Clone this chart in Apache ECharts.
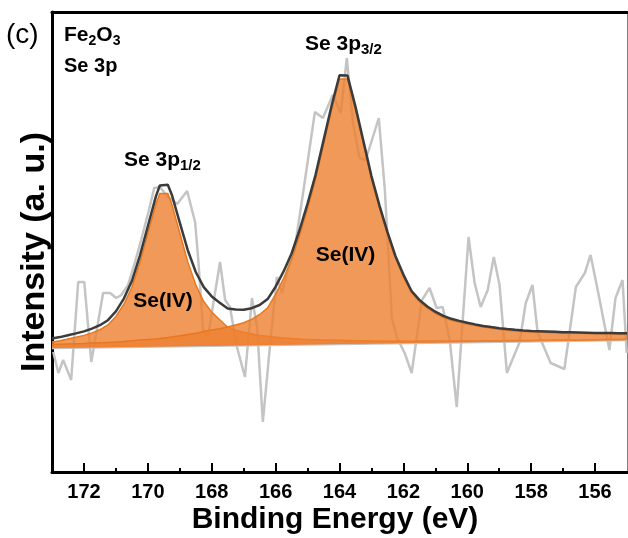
<!DOCTYPE html>
<html><head><meta charset="utf-8">
<script src="https://cdn.jsdelivr.net/npm/echarts@6/dist/echarts.min.js"></script>
<style>html,body{margin:0;padding:0;background:#fff}#c{width:628px;height:538px}</style>
</head><body><div id="c"></div>
<script>
// Raw (noisy) spectrum
const rawEnergy = [172.96,172.80,172.65,172.40,172.18,171.99,171.77,171.40,171.18,170.99,170.83,170.62,170.40,170.21,169.98,169.80,169.62,169.40,169.08,168.77,168.52,168.42,168.27,168.12,167.74,167.58,167.43,167.21,166.96,166.74,166.58,166.40,166.18,165.96,165.80,165.58,165.36,165.14,164.77,164.52,164.21,163.96,163.77,163.58,163.37,163.18,162.77,162.58,162.36,162.21,161.96,161.74,161.42,161.18,160.96,160.77,160.55,160.33,160.18,159.96,159.77,159.58,159.36,159.17,158.99,158.76,158.36,158.17,157.96,157.80,157.39,156.96,156.60,156.32,156.14,155.93,155.55,155.36,155.14,155.01];
const rawIntensity = [120,99,112,92,190,190,110,179,179,174,177,187,210,232,260,284,285,276,268,281,250,212,142,135,210,172,165,125,95,174,145,50,125,195,179,207,232,279,360,354,377,359,414,349,314,312,354,282,154,135,119,99,172,184,164,165,132,65,135,235,189,165,182,215,187,99,130,169,187,140,109,103,185,199,217,184,122,174,192,119];

// Fitted curves
const fitEnergy = [173,172.75,172.5,172.25,172,171.75,171.5,171.25,171,170.75,170.5,170.25,170,169.75,169.625,169.375,169.25,169,168.75,168.5,168.25,168,167.75,167.5,167.25,167,166.75,166.5,166.25,166,165.75,165.5,165.25,165,164.75,164.5,164.25,164,163.75,163.5,163.25,163,162.75,162.5,162.25,162,161.75,161.5,161.25,161,160.75,160.5,160.25,160,159.75,159.5,159.25,159,158.75,158.5,158.25,158,157.75,157.5,157.25,157,156.75,156.5,156.25,156,155.75,155.5,155.25,155];
const peak3p12 = [130.1,131.3,133.1,134.7,136.6,139.1,142.3,147.0,155.5,167.8,184.8,209.4,238.5,267.7,278.5,278.5,268.0,239.0,210.1,187.2,170.5,159.9,152.3,144.8,141.9,139.7,138.0,136.4,135.7,134.8,134.1,133.4,132.9,132.6,132.3,132.1,131.9,131.7,131.5,131.3,131.2,131.0,131.0,131.0,130.9,130.9,130.8,130.9,130.9,131.0,130.9,131.1,131.1,131.2,131.1,131.2,131.3,131.3,131.4,131.5,131.6,131.6,131.7,131.8,131.9,131.9,132.0,132.1,132.2,132.3,132.4,132.5,132.6,132.7];
const peak3p32 = [127.5,127.7,127.9,128.2,128.4,128.9,129.2,129.6,130.0,130.6,131.2,131.9,132.5,133.1,133.5,134.4,135.0,136.2,137.6,138.8,140.5,141.9,143.3,145.0,147.1,149.3,152.6,157.5,164.2,177.6,193.7,212.4,236.5,263.3,292.6,327.3,362.0,393.0,393.0,362.3,327.8,293.3,264.3,237.8,213.9,195.4,179.5,170.3,163.8,158.6,154.7,151.7,149.7,147.9,146.4,144.9,143.7,142.7,141.8,141.1,140.6,140.2,139.9,139.6,139.3,139.0,138.9,138.7,138.5,138.4,138.3,138.2,138.1,138.0];
const envelope = [133.6,134.9,136.8,138.6,140.6,143.4,146.8,151.8,160.6,173.4,190.9,216.1,245.7,275.4,286.5,287.3,277.3,249.4,221.8,200.0,184.9,175.6,169.3,163.4,162.4,162.3,163.8,167.0,172.9,185.3,200.6,218.5,242.0,268.3,297.2,331.6,366.0,396.7,396.4,365.4,330.7,295.9,266.7,240.1,216.0,197.4,181.3,172.1,165.5,160.3,156.2,153.2,151.1,149.3,147.6,146.1,144.9,143.8,142.9,142.2,141.6,141.1,140.8,140.5,140.2,139.8,139.7,139.5,139.3,139.1,139.0,138.9,138.8,138.7];

// Background (linear)
const backgroundEnergy = [173, 155];
const backgroundIntensity = [124, 132];

// Axis ticks
const majorTicks = [156,158,160,162,164,166,168,170,172];
const minorTicks = [157,159,161,163,165,167,169,171];

const FONT = '"Liberation Sans", Arial, Helvetica, sans-serif';
const pairs = (xs, ys) => xs.map((x, i) => [x, ys[i]]);

function peakSeries(values, name) {
  return {
    type: 'custom', name: name, xAxisIndex: 0, yAxisIndex: 0, z: 3, clip: true,
    silent: true, animation: false,
    data: [[164, 200]],
    renderItem: function (params, api) {
      const top = fitEnergy.map((x, i) => api.coord([x, values[i]]));
      const base = [api.coord([backgroundEnergy[1], backgroundIntensity[1]]),
                    api.coord([backgroundEnergy[0], backgroundIntensity[0]])];
      return { type: 'group', children: [
        { type: 'polygon', shape: { points: top.concat(base) }, style: { fill: 'rgba(238,128,48,0.8)', stroke: null } },
        { type: 'polyline', shape: { points: top }, style: { fill: null, stroke: '#E8781E', lineWidth: 1.5 } }
      ] };
    }
  };
}

const chart = echarts.init(document.getElementById('c'), null, { renderer: 'canvas' });
const gridRect = { left: 52, right: 1, top: 12, bottom: 66 };
const cornerRich = {
  b: { fontSize: 21, fontWeight: 'bold', fontFamily: FONT, fill: '#000', lineHeight: 26 },
  s: { fontSize: 14, fontWeight: 'bold', fontFamily: FONT, fill: '#000', lineHeight: 26, verticalAlign: 'bottom' }
};
const peakRich = {
  b: { fontSize: 21, fontWeight: 'bold', fontFamily: FONT, fill: '#000', lineHeight: 27 },
  s: { fontSize: 15, fontWeight: 'bold', fontFamily: FONT, fill: '#000', lineHeight: 27, verticalAlign: 'bottom' }
};
const hidden = { axisLine: { show: false }, axisTick: { show: false }, axisLabel: { show: false }, splitLine: { show: false } };

chart.setOption({
  animation: false,
  backgroundColor: '#fff',
  grid: [Object.assign({}, gridRect), Object.assign({}, gridRect)],
  xAxis: [
    { gridIndex: 0, type: 'value', min: 155, max: 173, inverse: true, position: 'bottom',
      axisLine: { show: true, onZero: false, lineStyle: { color: '#000', width: 3 } },
      axisTick: { show: true, inside: true, length: 9, customValues: majorTicks, lineStyle: { color: '#000', width: 2 } },
      axisLabel: { show: true, customValues: majorTicks, color: '#000', fontSize: 20, fontWeight: 'bold', fontFamily: FONT, margin: 10 },
      splitLine: { show: false } },
    { gridIndex: 0, type: 'value', min: 155, max: 173, inverse: true, position: 'top',
      axisLine: { show: true, onZero: false, lineStyle: { color: '#000', width: 3 } },
      axisTick: { show: false }, axisLabel: { show: false }, splitLine: { show: false } },
    { gridIndex: 1, type: 'value', min: 155, max: 173, inverse: true, position: 'bottom',
      axisLine: { show: false, onZero: false },
      axisTick: { show: true, inside: true, length: 4, customValues: minorTicks, lineStyle: { color: '#000', width: 2 } },
      axisLabel: { show: false }, splitLine: { show: false } }
  ],
  yAxis: [
    { gridIndex: 0, type: 'value', min: 0, max: 460, position: 'left',
      axisLine: { show: true, onZero: false, lineStyle: { color: '#000', width: 3 } },
      axisTick: { show: false }, axisLabel: { show: false }, splitLine: { show: false } },
    { gridIndex: 0, type: 'value', min: 0, max: 460, position: 'right',
      axisLine: { show: true, onZero: false, lineStyle: { color: '#808080', width: 1 } },
      axisTick: { show: false }, axisLabel: { show: false }, splitLine: { show: false } },
    Object.assign({ gridIndex: 1, type: 'value', min: 0, max: 460 }, hidden)
  ],
  series: [
    { type: 'line', name: 'raw', xAxisIndex: 0, yAxisIndex: 0, z: 1, data: pairs(rawEnergy, rawIntensity),
      showSymbol: false, symbol: 'none', lineStyle: { color: '#c4c4c4', width: 2.5 }, silent: true },
    { type: 'line', name: 'background', xAxisIndex: 0, yAxisIndex: 0, z: 2, data: pairs(backgroundEnergy, backgroundIntensity),
      showSymbol: false, symbol: 'none', lineStyle: { color: '#c4c4c4', width: 2.5 }, silent: true },
    peakSeries(peak3p12, 'Se 3p1/2'),
    peakSeries(peak3p32, 'Se 3p3/2'),
    { type: 'line', name: 'envelope', xAxisIndex: 0, yAxisIndex: 0, z: 4, data: pairs(fitEnergy, envelope),
      showSymbol: false, symbol: 'none', lineStyle: { color: '#3b3b3b', width: 2.5 }, silent: true }
  ],
  graphic: [
    { type: 'text', x: 6, y: 35, z: 10, style: { text: '(c)', font: '28px ' + FONT, fill: '#000', verticalAlign: 'middle' } },
    { type: 'text', x: 64, y: 35, z: 10, style: { text: '{b|Fe}{s|2}{b|O}{s|3}', rich: cornerRich, verticalAlign: 'middle' } },
    { type: 'text', x: 64, y: 66, z: 10, style: { text: 'Se 3p', font: 'bold 20px ' + FONT, fill: '#000', verticalAlign: 'middle' } },
    { type: 'text', x: 305, y: 44, z: 10, style: { text: '{b|Se 3p}{s|3/2}', rich: peakRich, verticalAlign: 'middle' } },
    { type: 'text', x: 124, y: 160, z: 10, style: { text: '{b|Se 3p}{s|1/2}', rich: peakRich, verticalAlign: 'middle' } },
    { type: 'text', x: 163, y: 301, z: 10, style: { text: 'Se(IV)', font: 'bold 21px ' + FONT, fill: '#000', align: 'center', verticalAlign: 'middle' } },
    { type: 'text', x: 345.5, y: 255, z: 10, style: { text: 'Se(IV)', font: 'bold 21px ' + FONT, fill: '#000', align: 'center', verticalAlign: 'middle' } },
    { type: 'text', x: 335, y: 520, z: 10, style: { text: 'Binding Energy (eV)', font: 'bold 30px ' + FONT, fill: '#000', align: 'center', verticalAlign: 'middle' } },
    { type: 'text', x: 35, y: 252, rotation: Math.PI / 2, z: 10, style: { text: 'Intensity (a. u.)', font: 'bold 34px ' + FONT, fill: '#000', align: 'center', verticalAlign: 'middle' } }
  ]
});
</script>
</body></html>
